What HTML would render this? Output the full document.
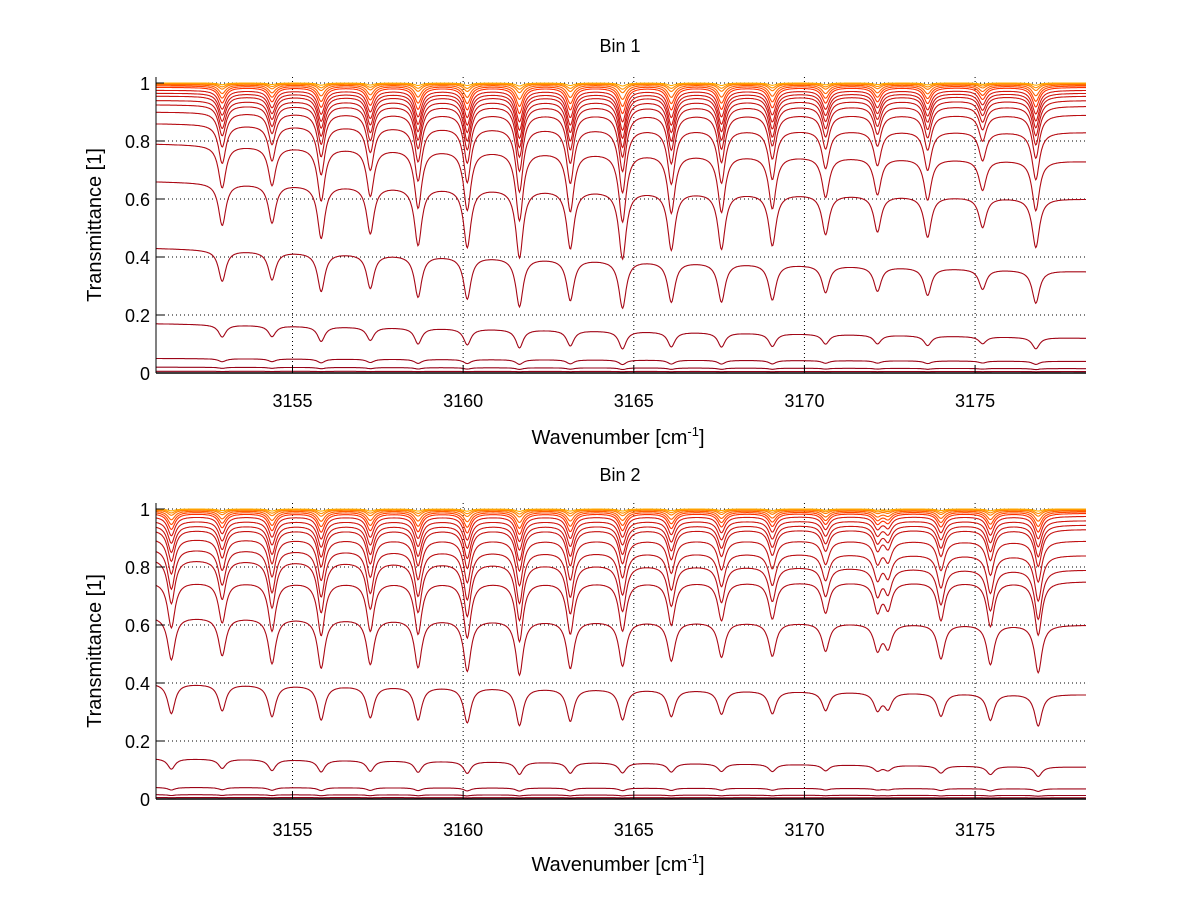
<!DOCTYPE html>
<html><head><meta charset="utf-8"><style>
body{margin:0;background:#fff;}
svg{display:block;font-family:"Liberation Sans",sans-serif;}
</style></head><body>
<svg id="chart" width="1200" height="901" viewBox="0 0 1200 901"></svg>
<script>
// ---- data ----
const xTicks = [3155, 3160, 3165, 3170, 3175];
const yTicks = [0, 0.2, 0.4, 0.6, 0.8, 1];
const yTickLabels = ["0", "0.2", "0.4", "0.6", "0.8", "1"];
const panelTitles = ["Bin 1", "Bin 2"];
// absorption line centres (cm^-1) and relative strengths
const lines1 = [3152.94,3154.40,3155.84,3157.28,3158.68,3160.12,3161.65,3163.14,3164.67,3166.10,3167.57,3169.06,3170.62,3172.14,3173.61,3175.22,3176.78];
const str1 = [0.60,0.55,0.76,0.68,0.84,0.86,1.0,0.86,1.0,0.86,0.84,0.78,0.60,0.55,0.62,0.46,0.76];
const lines2 = [3151.45,3152.94,3154.40,3155.84,3157.28,3158.68,3160.12,3161.65,3163.14,3164.67,3166.10,3167.57,3169.06,3170.62,3172.14,3172.45,3174.00,3175.45,3176.85];
const str2 = [0.62,0.55,0.66,0.72,0.66,0.70,0.75,0.80,0.70,0.66,0.58,0.52,0.50,0.42,0.38,0.34,0.52,0.60,0.72];
// curve baselines at left and right edges, and dip scale per curve
const base1L = [1.0,0.999,0.997,0.994,0.99,0.985,0.975,0.965,0.955,0.94,0.925,0.90,0.86,0.79,0.66,0.43,0.17,0.05,0.02,0.006];
const base1R = [1.0,0.999,0.997,0.994,0.99,0.985,0.975,0.965,0.955,0.94,0.92,0.89,0.83,0.73,0.60,0.35,0.12,0.04,0.015,0.005];
const dip1 = [0.01,0.02,0.03,0.05,0.07,0.09,0.11,0.13,0.15,0.17,0.19,0.22,0.26,0.31,0.37,0.42,0.42,0.35,0.3,0.2];
const base2L = [1.0,0.999,0.997,0.994,0.99,0.985,0.975,0.96,0.945,0.93,0.90,0.865,0.83,0.75,0.63,0.40,0.14,0.04,0.015,0.005];
const base2R = [1.0,0.999,0.997,0.994,0.99,0.985,0.975,0.96,0.945,0.93,0.89,0.84,0.79,0.75,0.60,0.36,0.11,0.035,0.012,0.004];
const dip2 = [0.01,0.02,0.03,0.05,0.07,0.09,0.11,0.13,0.16,0.19,0.22,0.26,0.30,0.34,0.38,0.42,0.42,0.35,0.3,0.2];

// ---- layout ----
const X0 = 3151.0, X1 = 3178.25;
const panels = [
  {top:77, bottom:373, y1:83, lines:lines1, str:str1, bL:base1L, bR:base1R, dip:dip1, titleY:52, tickY:407, labelY:444},
  {top:503, bottom:799, y1:509, lines:lines2, str:str2, bL:base2L, bR:base2R, dip:dip2, titleY:481, tickY:836, labelY:871}
];
const L = 156, R = 1086;
const svg = document.getElementById('chart');
const NS = 'http://www.w3.org/2000/svg';
function mk(tag, attrs, parent){const e=document.createElementNS(NS,tag);for(const k in attrs)e.setAttribute(k,attrs[k]);(parent||svg).appendChild(e);return e;}
function xs(v){return L + (v - X0) / (X1 - X0) * (R - L);}

function colorFor(i, n){
  const t = i / (n - 1);
  let r,g,b;
  if (t < 0.3){ const u=t/0.3; r=255; g=Math.round(170-140*u); b=0; }
  else { const u=(t-0.3)/0.7; r=Math.round(215-70*u); g=Math.round(25-25*u); b=Math.round(15+10*u); }
  return `rgb(${r},${g},${b})`;
}

panels.forEach((p, pi) => {
  const g = mk('g', {});  
  const ys = v => p.bottom - v * (p.bottom - p.y1);
  // grid
  xTicks.forEach(t => { const l = mk('line',{x1:xs(t),x2:xs(t),y1:p.top,y2:p.bottom,stroke:'#000','stroke-width':1,'stroke-dasharray':'1 3'},g);   });
  yTicks.forEach(t => { const l = mk('line',{x1:L,x2:R,y1:ys(t),y2:ys(t),stroke:'#000','stroke-width':1,'stroke-dasharray':'1 3'},g);   });
  // curves (draw lowest first)
  const n = p.bL.length;
  for (let ci = n - 1; ci >= 0; ci--) {
    let d = '';
    for (let x = X0; x <= X1 + 1e-9; x += 0.025) {
      const f = (x - X0) / (X1 - X0);
      const B = p.bL[ci] + (p.bR[ci] - p.bL[ci]) * f;
      let a = 0;
      for (let k = 0; k < p.lines.length; k++) {
        const dx = (x - p.lines[k]) / 0.13;
        a += p.str[k] / (1 + dx*dx);
      }
      a = Math.min(a, 1.6);
      const v = B * (1 - p.dip[ci] * a);
      d += (d ? 'L' : 'M') + xs(x).toFixed(1) + ',' + ys(v).toFixed(1);
    }
    const path = mk('path',{d:d,fill:'none',stroke:colorFor(ci,n),'stroke-width':1.1},g);
    
    
  }
  // axis lines (left & bottom only)
  const ax = mk('line',{x1:L,x2:L,y1:p.top,y2:p.bottom,stroke:'#000','stroke-width':1},g);
   
  const bx = mk('line',{x1:L,x2:R,y1:p.bottom,y2:p.bottom,stroke:'#000','stroke-width':1.5},g);
   
  // ticks & labels
  xTicks.forEach(t => {
    mk('line',{x1:xs(t),x2:xs(t),y1:p.bottom,y2:p.bottom-8,stroke:'#000'},g);
    const tx = mk('text',{x:xs(t),y:p.tickY,'font-size':18,'text-anchor':'middle'},g);
    tx.textContent = t;
     
  });
  yTicks.forEach((t, i) => {
    mk('line',{x1:L,x2:L+8,y1:ys(t),y2:ys(t),stroke:'#000'},g);
    const tx = mk('text',{x:L-6,y:ys(t)+7,'font-size':18,'text-anchor':'end'},g);
    tx.textContent = yTickLabels[i];
     
  });
  const title = mk('text',{x:620,y:p.titleY,'font-size':18,'text-anchor':'middle'},g);
  title.textContent = panelTitles[pi];
   
  const xl = mk('text',{x:618,y:p.labelY,'font-size':20,'text-anchor':'middle'},g);
  xl.innerHTML = 'Wavenumber [cm<tspan dy="-8" font-size="13">-1</tspan><tspan dy="8">]</tspan>';
   
  const cy = (p.top + p.bottom) / 2;
  const yl = mk('text',{x:0,y:0,'font-size':20,'text-anchor':'middle',transform:`translate(101,${cy}) rotate(-90)`},g);
  yl.textContent = 'Transmittance [1]';
   
});
</script>
</body></html>
